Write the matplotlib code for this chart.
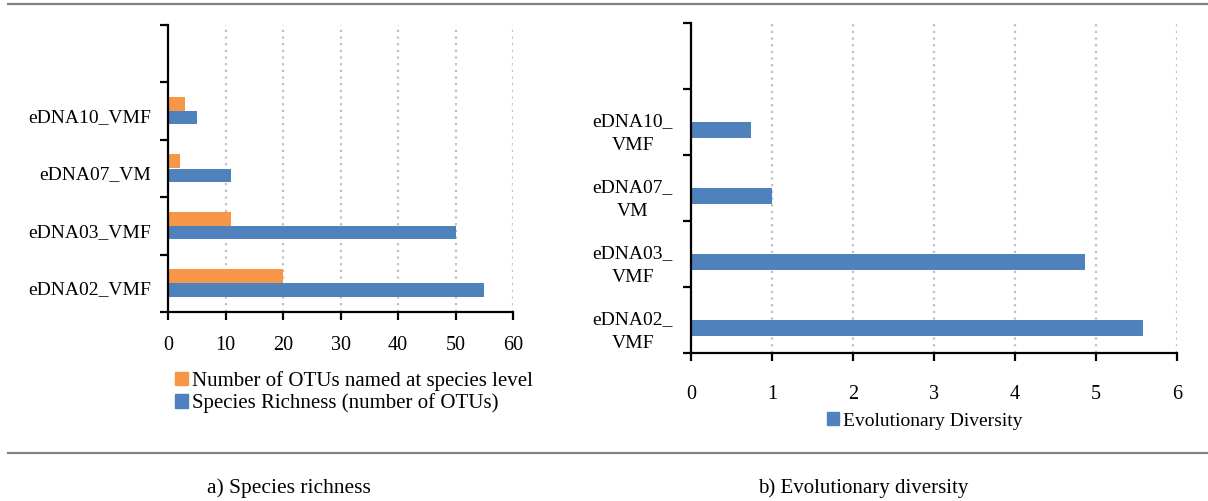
import matplotlib
matplotlib.use("Agg")
import matplotlib.pyplot as plt
from matplotlib.lines import Line2D
from matplotlib.patches import Patch

plt.rcParams['font.family'] = ['Liberation Serif', 'DejaVu Serif']

# sample sites, bottom to top
sites = ['eDNA02_VMF', 'eDNA03_VMF', 'eDNA07_VM', 'eDNA10_VMF']
sites_wrapped = ['eDNA02_\nVMF', 'eDNA03_\nVMF', 'eDNA07_\nVM', 'eDNA10_\nVMF']

richness = [55, 50, 11, 5]          # Species Richness (number of OTUs)
named_species = [20, 11, 2, 3]      # Number of OTUs named at species level
evo_diversity = [5.58, 4.86, 1.0, 0.74]

blue = '#4f81bd'
orange = '#f79646'
grid_col = '#bfbfbf'

W, H = 1208, 501
fig = plt.figure(figsize=(W / 100, H / 100), dpi=100)


def px_axes(x0, y_top, x1, y_bot):
    return fig.add_axes([x0 / W, (H - y_bot) / H, (x1 - x0) / W, (y_bot - y_top) / H])


def style(ax, xmax, xstep):
    n = len(sites) + 1
    ax.set_ylim(-0.5, n - 0.5)
    ax.set_xlim(0, xmax)
    ax.set_xticks(range(0, xmax + 1, xstep))
    ax.set_yticks([i - 0.5 for i in range(n + 1)])
    ax.set_yticklabels([])
    for s in ('top', 'right'):
        ax.spines[s].set_visible(False)
    for s in ('left', 'bottom'):
        ax.spines[s].set_linewidth(1.6)
    ax.tick_params(axis='both', which='major', length=6, width=1.6, direction='out')
    ax.tick_params(axis='y', which='minor', length=0)
    ax.grid(axis='x', linestyle=(0, (1, 2)), color=grid_col, linewidth=1.6)
    ax.set_axisbelow(True)


# a) species richness
ax1 = px_axes(168, 25, 513, 312)
style(ax1, 60, 10)
pos = list(range(len(sites)))
ax1.barh([p + 0.125 for p in pos], named_species, height=0.245, color=orange)
ax1.barh([p - 0.115 for p in pos], richness, height=0.23, color=blue)
ax1.set_yticks([p - 0.08 for p in pos], minor=True)
ax1.set_yticklabels(sites, minor=True, fontsize=14)
ax1.tick_params(axis='y', which='minor', pad=12)
ax1.tick_params(axis='x', labelsize=14.5, pad=11)

fig.legend(handles=[Patch(color=orange), Patch(color=blue)],
           labels=['Number of OTUs named at species level',
                   'Species Richness (number of OTUs)'],
           loc='center left', bbox_to_anchor=(175 / W, 1 - 392 / H),
           frameon=False, fontsize=15, handlelength=0.62, handleheight=0.62,
           handletextpad=0.2, labelspacing=0.12, borderpad=0, borderaxespad=0)

# b) evolutionary diversity
ax2 = px_axes(691, 23, 1177, 353)
style(ax2, 6, 1)
ax2.barh([p - 0.12 for p in pos], evo_diversity, height=0.24, color=blue)
ax2.set_yticks([p - 0.1 for p in pos], minor=True)
ax2.set_yticklabels(sites_wrapped, minor=True, fontsize=14)
for lab in ax2.get_yticklabels(minor=True):
    lab.set_multialignment('center')
    lab.set_linespacing(1.5)
ax2.tick_params(axis='y', which='minor', pad=13)
ax2.tick_params(axis='x', labelsize=14.5, pad=17)

fig.legend(handles=[Patch(color=blue)], labels=['Evolutionary Diversity'],
           loc='center left', bbox_to_anchor=(827 / W, 1 - 421 / H),
           frameon=False, fontsize=14, handlelength=0.6, handleheight=0.6,
           handletextpad=0.2, borderpad=0, borderaxespad=0)

# horizontal rules and panel captions
for y in (4, 453):
    fig.add_artist(Line2D([8 / W, 1.0], [1 - y / H, 1 - y / H],
                          color='#808080', linewidth=1.6))
fig.text(289 / W, 1 - 488 / H, 'a) Species richness', ha='center', va='center', fontsize=15.5)
fig.text(863 / W, 1 - 488 / H, 'b) Evolutionary diversity', ha='center', va='center', fontsize=15)

fig.savefig('out.png', dpi=100)
